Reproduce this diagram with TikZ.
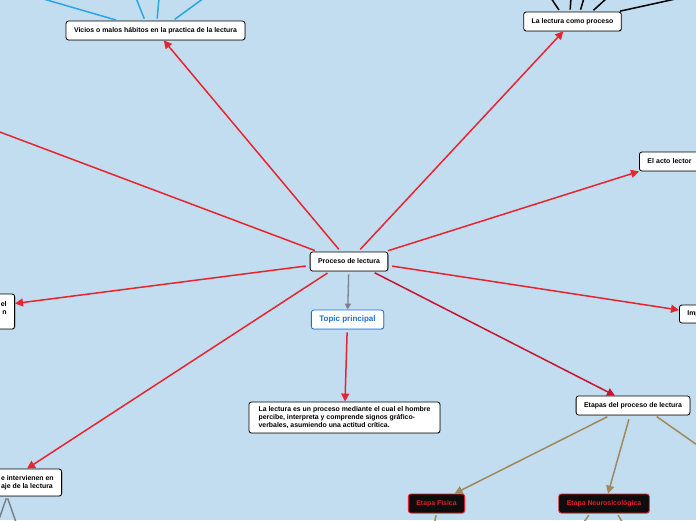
\documentclass[tikz,border=0pt]{standalone}
\usepackage{fontspec}
\usepackage{tikz}
\usetikzlibrary{arrows.meta, shadows}
\newfontfamily\mapfont{Liberation Sans}
\definecolor{mapbg}{RGB}{194, 221, 240}
\definecolor{linkred}{RGB}{232, 36, 46}
\definecolor{linkdark}{RGB}{198, 20, 48}
\definecolor{linkblue}{RGB}{42, 166, 226}
\definecolor{linktan}{RGB}{160, 137, 92}
\definecolor{linkgrey}{RGB}{125, 128, 138}
\definecolor{topicblue}{RGB}{28, 112, 212}
\definecolor{stagered}{RGB}{226, 30, 42}

\begin{document}
\begin{tikzpicture}[
    x=1pt, y=-1pt,
    font=\mapfont\bfseries\fontsize{6.9}{8}\selectfont,
    box/.style={draw=black, fill=white, rounded corners=2.5pt, line width=0.8pt,
        inner xsep=8pt, inner ysep=2pt, minimum height=19pt,
        drop shadow={shadow xshift=0.7pt, shadow yshift=-0.7pt, opacity=0.45}},
    topicbox/.style={box, draw=topicblue, text=topicblue, font=\mapfont\bfseries\fontsize{8}{9}\selectfont},
    stagebox/.style={box, draw=stagered, fill=black!95, text=stagered},
    redlink/.style={linkred, line width=1.5pt, shorten <=3pt, -{Triangle[length=8pt, width=8pt]}},
    darklink/.style={redlink, linkdark},
    greylink/.style={linkgrey, line width=1.3pt, shorten <=3pt, -{Triangle[length=6pt, width=6pt]}},
    tanlink/.style={linktan, line width=1.5pt, shorten <=3pt, -{Triangle[length=8pt, width=8pt]}},
    branch/.style={line width=1.5pt, shorten <=2pt}
]

    % --- Canvas ---
    \fill[mapbg] (0, 0) rectangle (696, 520);
    \useasboundingbox (0, 0) rectangle (696, 520);
    \clip (0, 0) rectangle (696, 520);

    % --- Free ends ---
    \coordinate (offleft)  at (-10, 128.3);
    \coordinate (offright) at (720, 461);
    \coordinate (v1) at (40, -2);
    \coordinate (v2) at (136, -2);
    \coordinate (v3) at (159, -2);
    \coordinate (v4) at (204, -2);
    \coordinate (l1) at (551, -2);
    \coordinate (l2) at (571, -2);
    \coordinate (l3) at (584, -2);
    \coordinate (l4) at (607, -2);
    \coordinate (l5) at (680, -2);
    \coordinate (g1) at (-3, 525);
    \coordinate (g2) at (17, 525);
    \coordinate (f1) at (434, 525);
    \coordinate (n1) at (582, 525);
    \coordinate (n2) at (624, 525);

    % --- Topics ---
    \node[box] (proc) at (349, 261.5) {Proceso de lectura};
    \node[topicbox] (topic) at (347.5, 319.5) {Topic principal};
    \node[box, align=left, inner xsep=5pt, inner ysep=4.5pt, minimum width=191pt] (defin) at (344.5, 417.5)
        {La lectura es un proceso mediante el cual el hombre\\percibe, interpreta y comprende signos gráfico-\\verbales, asumiendo una actitud crítica.};

    \node[box] (vicios) at (155.5, 30.5) {Vicios o malos hábitos en la practica de la lectura};
    \node[box] (lectproc) at (572.5, 21.5) {La lectura como proceso};
    \node[box, anchor=west, text width=60pt, align=left] (acto) at (639, 161.5) {El acto lector};
    \node[box, anchor=west, text width=60pt, align=left, minimum height=18pt] (impor) at (679, 314) {Imp};
    \node[box, anchor=east, text width=60pt, align=right, minimum height=35pt] (leftn) at (15, 311.5) {el\\n\\\mbox{}};
    \node[box, anchor=east, align=left, minimum height=27pt] (factores) at (62, 482.5) {e intervienen en\\aje de la lectura};
    \node[box] (etapas) at (633, 405.5) {Etapas del proceso de lectura};

    \node[stagebox] (fisica) at (436.5, 503.5) {Etapa Fisica};
    \node[stagebox] (neuro) at (604, 503.5) {Etapa Neurosicológica};

    % --- Main branches ---
    \draw[redlink] (proc) -- (vicios);
    \draw[redlink] (proc) -- (lectproc);
    \draw[redlink] ([xshift=-3pt]proc.north east) -- (acto.south west);
    \draw[linkred, line width=1.5pt, shorten <=3pt] ([xshift=8pt]proc.north west) -- (offleft);
    \draw[redlink, shorten <=4pt] ([yshift=-4pt]proc.west) -- ([yshift=8pt]leftn.east);
    \draw[redlink, shorten <=4pt] ([yshift=-4pt]proc.east) -- ([yshift=4pt]impor.west);
    \draw[redlink] ([xshift=-19pt]proc.south) -- ([xshift=-35pt]factores.north east);
    \draw[darklink] ([xshift=23pt]proc.south) -- ([xshift=-18pt]etapas.north);
    \draw[greylink] (proc) -- (topic);
    \draw[redlink] (topic) -- (defin);

    % --- Stages ---
    \draw[tanlink] ([xshift=-23pt]etapas.south) -- ([xshift=18pt]fisica.north);
    \draw[tanlink, shorten <=4pt] ([xshift=-3pt]etapas.south) -- ([xshift=4pt]neuro.north);
    \draw[linktan, branch] ([xshift=22pt]etapas.south) -- (offright);

    % --- Cut-off sub branches ---
    \draw[linkblue, branch] ([xshift=-37.5pt]vicios.north) -- (v1);
    \draw[linkblue, branch] ([xshift=-10.5pt]vicios.north) -- (v2);
    \draw[linkblue, branch] ([xshift=1.5pt]vicios.north) -- (v3);
    \draw[linkblue, branch] ([xshift=17.5pt]vicios.north) -- (v4);

    \draw[black, branch] ([xshift=-12.5pt]lectproc.north) -- (l1);
    \draw[black, branch] ([xshift=-2.5pt]lectproc.north) -- (l2);
    \draw[black, branch] ([xshift=7.5pt]lectproc.north) -- (l3);
    \draw[black, branch] ([xshift=19.5pt]lectproc.north) -- (l4);
    \draw[black, branch] ([xshift=45.5pt]lectproc.north) -- (l5);

    \draw[linkgrey, branch] ([xshift=-55pt]factores.south east) -- (g1);
    \draw[linkgrey, branch] ([xshift=-55pt]factores.south east) -- (g2);

    \draw[linktan, branch] (fisica.south) -- (f1);
    \draw[linktan, branch] ([xshift=-14pt]neuro.south) -- (n1);
    \draw[linktan, branch] ([xshift=13pt]neuro.south) -- (n2);

\end{tikzpicture}
\end{document}
